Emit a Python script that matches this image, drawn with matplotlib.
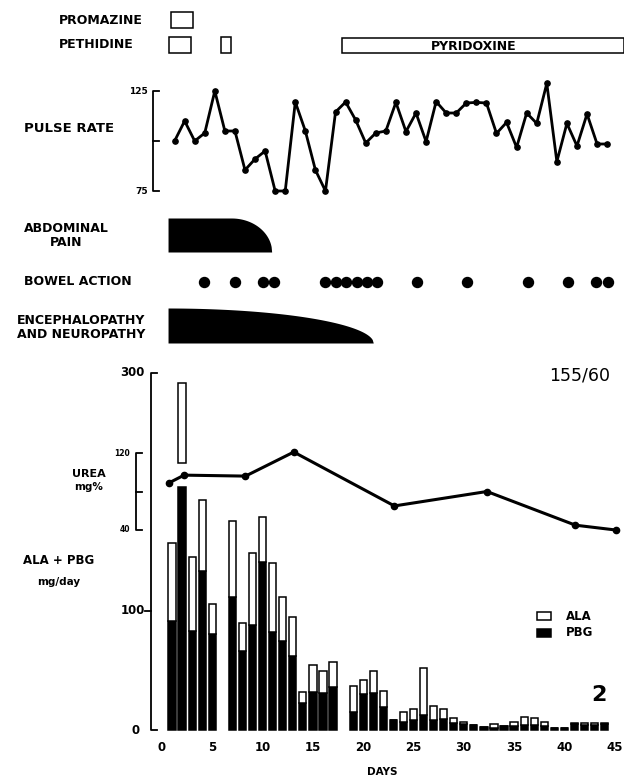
import matplotlib
matplotlib.use("Agg")
import matplotlib.pyplot as plt
import numpy as np
from matplotlib.patches import Rectangle

# ---------------- data ----------------
bar_days = [1, 2, 3, 4, 5, 7, 8, 9, 10, 11, 12, 13, 14, 15, 16, 17,
            19, 20, 21, 22, 23, 24, 25, 26, 27, 28, 29, 30, 31, 32, 33, 34,
            35, 36, 37, 38, 39, 40, 41, 42, 43, 44]
ala_pbg_total = [157, 292, 145, 193, 106, 176, 90, 149, 179, 140, 112, 95, 32, 55, 50, 57,
                 37, 42, 50, 33, 8, 15, 18, 52, 20, 18, 10, 7, 4, 2.5, 5, 3,
                 7, 11, 10, 7, 2, 2, 6, 6, 6, 6]
pbg = [92, 204, 83, 134, 81, 112, 66, 88, 141, 82, 75, 62, 23, 32, 31, 36,
       15, 30, 31, 19, 8, 7, 8, 13, 8, 9, 6, 5, 4, 2.5, 2, 3,
       3, 4, 4, 3, 2, 2, 5, 4, 4, 5]
# bar drawn broken where the urea curve crosses it: day -> level where ALA part resumes
bar_breaks = {2: 224}

pulse_days = list(range(1, 45))
pulse = [100, 110, 100, 104, 125, 105, 105, 85.5, 91, 95, 75, 75, 119.5, 105, 85.5, 75,
         114.5, 119.5, 110.5, 99, 104, 105, 119.3, 104.7, 114, 99.7, 119.7, 114, 114, 119,
         119.3, 119, 103.8, 109.3, 96.8, 114, 108.8, 128.8, 89.7, 108.8, 97.5, 113.5, 98.5, 98.5]

urea_days = [0.7, 2.2, 8.3, 13.1, 23.1, 32.3, 41.1, 45.1]
urea = [89, 97, 96, 121, 65, 80, 45, 40]

bowel_days = [4.2, 7.3, 10.0, 11.1, 16.25, 17.3, 18.3, 19.35, 20.4, 21.4,
              25.3, 30.3, 36.4, 40.4, 43.1, 44.3]

promazine_spans = [(0.9, 3.1)]
pethidine_spans = [(0.7, 2.9), (5.9, 6.9)]
pyridoxine_spans = [(17.9, 45.9)]

abdominal_pain = (0.6, 6.9, 10.9)     # start, end of plateau, end (days)
encephalopathy = (0.6, 0.6, 21.0)

x_ticks = [0, 5, 10, 15, 20, 25, 30, 35, 40, 45]
bar_ticks = [0, 100, 300]
urea_ticks = [40, 120]
pulse_ticks = [75, 125]

# ---------------- layout helpers ----------------
W, H, DPI = 624, 778, 100
X0, PXD = 162.0, 10.06          # pixel of day 0, pixels per day
plt.rcParams["font.family"] = ["DejaVu Sans"]
fig = plt.figure(figsize=(W / DPI, H / DPI), dpi=DPI)
fig.patch.set_facecolor("white")
XLIM = (-X0 / PXD, (W - X0) / PXD)


def px2day(x):
    return (x - X0) / PXD


def make_ax(v0, p0, v1, p1):
    ax = fig.add_axes([0, 0, 1, 1])
    ax.set_xlim(*XLIM)
    s = (v1 - v0) / (p0 - p1)
    ax.set_ylim(v0 + (p0 - H) * s, v0 + p0 * s)
    ax.axis("off")
    ax.patch.set_alpha(0)
    return ax


def ptext(x, y, s, **kw):
    kw.setdefault("va", "center")
    kw.setdefault("color", "black")
    kw.setdefault("fontweight", "bold")
    fig.text(x / W, 1 - y / H, s, **kw)


ax_px = make_ax(0, 0, 1, 1)          # value == pixel row (downwards)
ax_px.set_ylim(H, 0)
ax_bar = make_ax(0, 730, 300, 373)
ax_urea = make_ax(40, 530, 120, 453)
ax_pulse = make_ax(75, 191, 125, 91)
ax_pain = make_ax(0, 252, 1, 218)
ax_enc = make_ax(0, 343, 1, 308)

LW = 1.1
LBL = 9

# ---------------- drugs ----------------
def boxes(spans, ytop, h):
    for a, b in spans:
        ax_px.add_patch(Rectangle((a, ytop), b - a, h, facecolor="white",
                                  edgecolor="black", lw=LW))

boxes(promazine_spans, 12, 16)
boxes(pethidine_spans, 37, 16)
boxes(pyridoxine_spans, 38, 15)
ptext(59, 21, "PROMAZINE", fontsize=LBL)
ptext(59, 44, "PETHIDINE", fontsize=LBL)
ax_px.text(np.mean(pyridoxine_spans[0]) - 0.9, 46, "PYRIDOXINE", fontsize=LBL,
           fontweight="bold", ha="center", va="center")

# ---------------- pulse ----------------
ax_pulse.plot(np.array(pulse_days) + 0.25, pulse, "-o", color="black", lw=2.0, ms=3.8)
xa = px2day(152.5)
xs = px2day(158.5)
ax_pulse.plot([xs, xa, xa, xs], [125, 125, 75, 75], color="black", lw=1.3)
ax_pulse.plot([xa, xs], [100, 100], color="black", lw=1.3)
for t in pulse_ticks:
    ax_pulse.text(px2day(148), t, str(t), ha="right", va="center", fontsize=6.5,
                  fontweight="bold")
ptext(24, 129, "PULSE RATE", fontsize=9.5)

# ---------------- symptoms ----------------
def severity(spec, n=200):
    a, p, b = spec
    x = np.linspace(a, b, n)
    t = np.clip((x - p) / (b - p), 0, 1)
    return x, np.sqrt(1 - t ** 2)

x, y = severity(abdominal_pain)
ax_pain.fill_between(x, 0, y, color="black", lw=0)
x, y = severity(encephalopathy)
ax_enc.fill_between(x, 0, y, color="black", lw=0)

ptext(66, 229, "ABDOMINAL", fontsize=LBL, ha="center")
ptext(66, 243, "PAIN", fontsize=LBL, ha="center")
ptext(24, 282, "BOWEL ACTION", fontsize=LBL)
ptext(17, 321, "ENCEPHALOPATHY", fontsize=LBL)
ptext(17, 334, "AND NEUROPATHY", fontsize=LBL)

ax_px.plot(bowel_days, np.full(len(bowel_days), 282), "o", color="black", ms=7.2)

# ---------------- ALA + PBG bars ----------------
BW = 0.72
ala_bottom = [bar_breaks.get(d, p) for d, p in zip(bar_days, pbg)]
ala_height = [t - b for t, b in zip(ala_pbg_total, ala_bottom)]
ax_bar.bar(bar_days, pbg, width=BW, color="black", edgecolor="black", lw=LW)
ax_bar.bar(bar_days, ala_height, bottom=ala_bottom, width=BW, color="white",
           edgecolor="black", lw=LW)
ba = px2day(150.5)
bs = px2day(157)
ax_bar.plot([bs, ba, ba, bs], [300, 300, 0, 0], color="black", lw=1.3)
ax_bar.plot([px2day(145), ba], [100, 100], color="black", lw=1.3)
for t, xr in zip(bar_ticks, [140, 145, 145]):
    ax_bar.text(px2day(xr), t, str(t), ha="right", va="center", fontsize=8.5,
                fontweight="bold")
for t in x_ticks:
    ax_bar.text(t, -14.5, str(t), ha="center", va="center", fontsize=8.5, fontweight="bold")
ptext(382, 772, "DAYS", fontsize=7.5, ha="center")
ptext(59, 561, "ALA + PBG", fontsize=8.5, ha="center")
ptext(59, 582, "mg/day", fontsize=7.5, ha="center")

# legend
ax_px.add_patch(Rectangle((px2day(537), 612), 14 / PXD, 8, facecolor="white",
                          edgecolor="black", lw=LW))
ax_px.add_patch(Rectangle((px2day(537), 629), 14 / PXD, 8, facecolor="black",
                          edgecolor="black", lw=LW))
ptext(566, 616, "ALA", fontsize=8.5)
ptext(566, 633, "PBG", fontsize=8.5)

ptext(580, 376, "155/60", fontsize=12.5, ha="center", fontweight="normal")
ptext(599, 695, "2", fontsize=16, ha="center")

# ---------------- urea ----------------
ax_urea.plot(urea_days, urea, "-o", color="black", lw=2.2, ms=4.5)
ua = px2day(135.5)
us = px2day(141.5)
ax_urea.plot([us, ua, ua, us], [120, 120, 40, 40], color="black", lw=1.3)
ax_urea.plot([ua, us], [80, 80], color="black", lw=1.3)
for t in urea_ticks:
    ax_urea.text(px2day(130), t, str(t), ha="right", va="center", fontsize=5.5,
                 fontweight="bold")
ptext(89, 474, "UREA", fontsize=8, ha="center")
ptext(89, 487, "mg%", fontsize=7.5, ha="center")

fig.savefig("out.png", dpi=DPI, facecolor="white")
